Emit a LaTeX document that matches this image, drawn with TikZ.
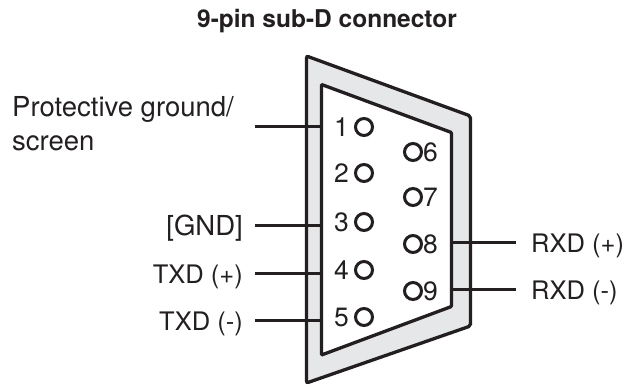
\documentclass[tikz,border=0pt]{standalone}
\usepackage{fontspec}
\setmainfont{TeX Gyre Heros}
\definecolor{ink}{HTML}{231F20}
\definecolor{shell}{HTML}{E6E7E8}
\tikzset{
  lbl/.style = {inner sep = 0pt, font = \fontsize{27.5}{34}\selectfont, text = ink},
  sig/.style = {lbl, font = \fontsize{25.5}{30}\selectfont},
  pin/.style = {circle, draw = ink, line width = 3pt, minimum size = 17pt, inner sep = 0pt},
  pinnum/.style = {inner sep = 0pt, font = \fontsize{26.5}{30}\selectfont, text = ink},
  wire/.style = {draw = ink, line width = 3pt}
}
\begin{document}
\begin{tikzpicture}[x = 1pt, y = -1pt]
\useasboundingbox (0,0) rectangle (628,387);
\node[inner sep = 0pt, anchor = base, font = \bfseries\fontsize{24.5}{28}\selectfont, text = ink] (title) at (327,27.5) {9-pin sub-D connector};
% shell of the plug
\draw[draw = ink, fill = shell, line width = 3.3pt, rounded corners = 2pt] (306.5,56) -- (470.5,116) -- (470.5,326) -- (306.5,383) -- cycle;
\draw[draw = ink, fill = white, line width = 3.3pt, rounded corners = 1pt] (321.5,84.5) -- (451.5,132.5) -- (451.5,306.5) -- (321.5,355) -- cycle;
% pins 1..5 and 6..9
\foreach \n/\y in {1/127,2/173,3/222,4/270,5/317} {
  \node[pin] (p\n) at (364,\y) {};
  \node[pinnum, anchor = base east] (n\n) at (349,\y+9.5) {\n};
}
\foreach \n/\y in {6/152,7/197,8/244,9/291} {
  \node[pin] (p\n) at (413,\y) {};
  \node[pinnum, anchor = base west] (n\n) at (423,\y+9.5) {\n};
}
% wire ends on the shell
\coordinate (w1) at (321.5,127);
\coordinate (w3) at (321.5,225);
\coordinate (w4) at (321.5,273);
\coordinate (w5) at (321.5,320);
\coordinate (w8) at (451.5,242);
\coordinate (w9) at (451.5,289);
% signal names
\node[lbl, anchor = north west, align = left] (gnd) at (12,96) {Protective ground/\\screen};
\node[lbl, anchor = base east] (sgnd) at (243,235) {[GND]};
\node[sig, anchor = base east] (txp) at (243,283) {TXD (+)};
\node[sig, anchor = base east] (txm) at (243,330) {TXD (-)};
\node[sig, anchor = base west] (rxp) at (531,252) {RXD (+)};
\node[sig, anchor = base west] (rxm) at (531,299) {RXD (-)};
\coordinate (g1) at (255,127);
\draw[wire] (g1) -- (w1);
\draw[wire] (sgnd.east |- w3) ++(12,0) -- (w3);
\draw[wire] (txp.east |- w4) ++(12,0) -- (w4);
\draw[wire] (txm.east |- w5) ++(12,0) -- (w5);
\draw[wire] (w8) -- ([xshift = -15pt]rxp.west |- w8);
\draw[wire] (w9) -- ([xshift = -15pt]rxm.west |- w9);
\end{tikzpicture}
\end{document}
